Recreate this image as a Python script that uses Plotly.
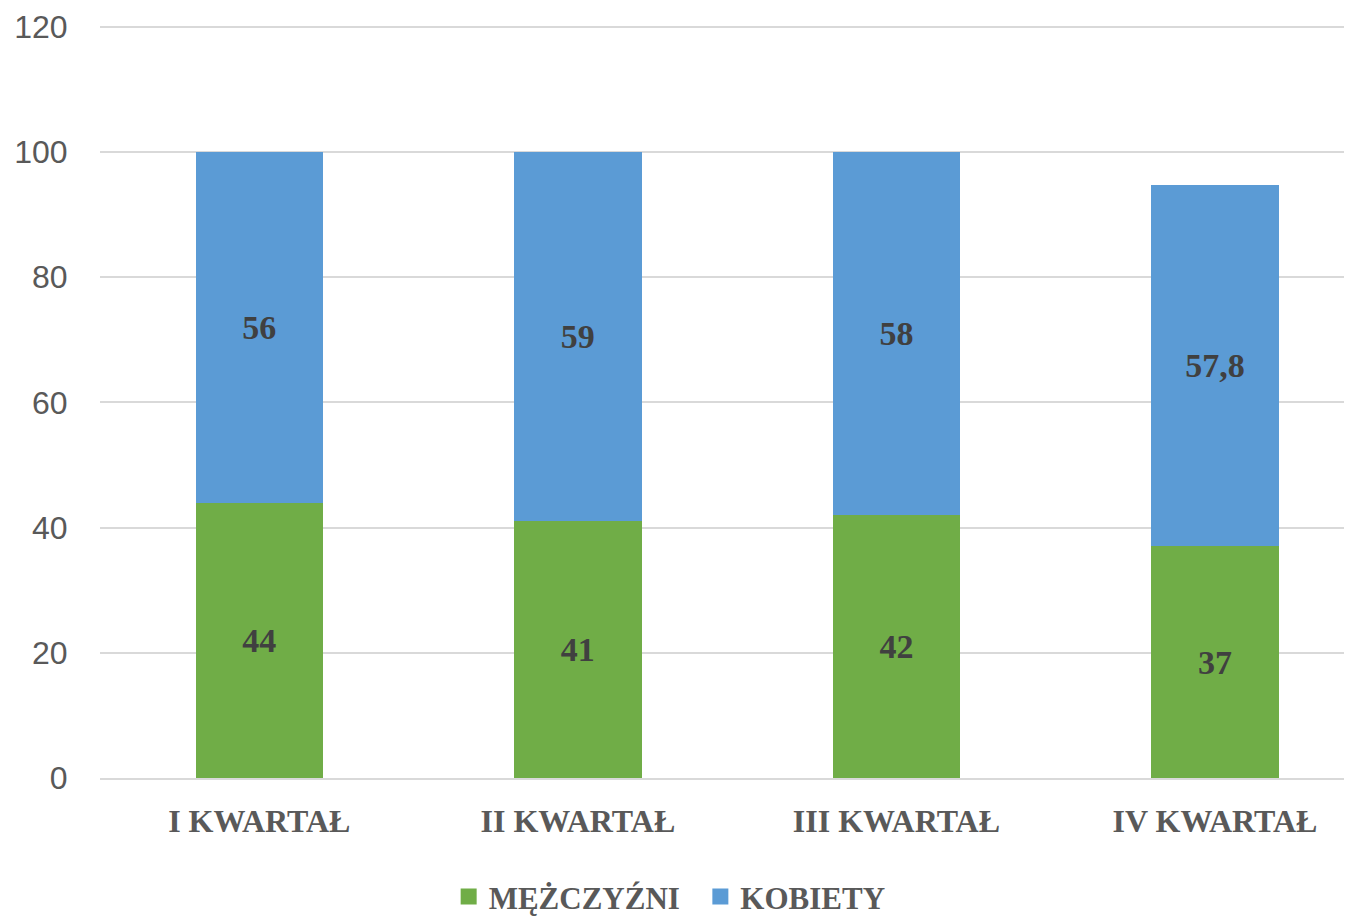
import plotly.graph_objects as go

# ── data ──
quarters = ['I KWARTAŁ', 'II KWARTAŁ', 'III KWARTAŁ', 'IV KWARTAŁ']
men = [44, 41, 42, 37]
women = [56, 59, 58, 57.8]
women_text = ['56', '59', '58', '57,8']
y_ticks = [0, 20, 40, 60, 80, 100, 120]

GREEN = '#70AD47'
BLUE = '#5B9BD5'
SERIF = 'Liberation Serif, DejaVu Serif, serif'
SANS = 'Liberation Sans, Arial, sans-serif'

fig = go.Figure()
fig.add_trace(go.Bar(
    x=quarters, y=men, name='MĘŻCZYŹNI',
    marker=dict(color=GREEN, line=dict(width=0)),
    text=[str(v) for v in men], textposition='inside', insidetextanchor='middle',
    textfont=dict(family=SERIF, size=34, color='#404040', weight='bold'),
    showlegend=False,
))
fig.add_trace(go.Bar(
    x=quarters, y=women, name='KOBIETY',
    marker=dict(color=BLUE, line=dict(width=0)),
    text=women_text, textposition='inside', insidetextanchor='middle',
    textfont=dict(family=SERIF, size=34, color='#404040', weight='bold'),
    showlegend=False,
))

# legend-only markers (bigger squares than the default bar swatches)
for nm, col in [('MĘŻCZYŹNI\u00a0\u00a0', GREEN), ('KOBIETY', BLUE)]:
    fig.add_trace(go.Scatter(
        x=[None], y=[None], mode='markers', name=nm,
        marker=dict(symbol='square', size=16, color=col),
    ))

# page body has an 8px margin, so the figure is shifted 8px right/down
fig.update_layout(
    width=1344, height=916,
    barmode='stack', bargap=0.6,
    paper_bgcolor='white', plot_bgcolor='white',
    margin=dict(l=92, r=0, t=17, b=146),
    uniformtext=dict(minsize=10, mode='show'),
    xaxis=dict(
        range=[-0.5, 3.43], showgrid=False, automargin=False,
        showline=True, linecolor='#D9D9D9', linewidth=2,
        ticks='outside', ticklen=14, tickcolor='rgba(0,0,0,0)',
        tickfont=dict(family=SERIF, size=32, color='#595959', weight='bold'),
    ),
    yaxis=dict(
        range=[0, 120.3], tickvals=y_ticks, automargin=False,
        gridcolor='#D9D9D9', gridwidth=2, zeroline=False,
        ticks='outside', ticklen=25, tickcolor='rgba(0,0,0,0)',
        tickfont=dict(family=SANS, size=32, color='#595959'),
    ),
    legend=dict(
        orientation='h', x=0.455, xanchor='center', y=-0.158, yanchor='middle',
        font=dict(family=SERIF, size=31, color='#595959', weight='bold'),
        traceorder='normal', itemwidth=30, tracegroupgap=0,
    ),
)

fig.write_html("out.html")
